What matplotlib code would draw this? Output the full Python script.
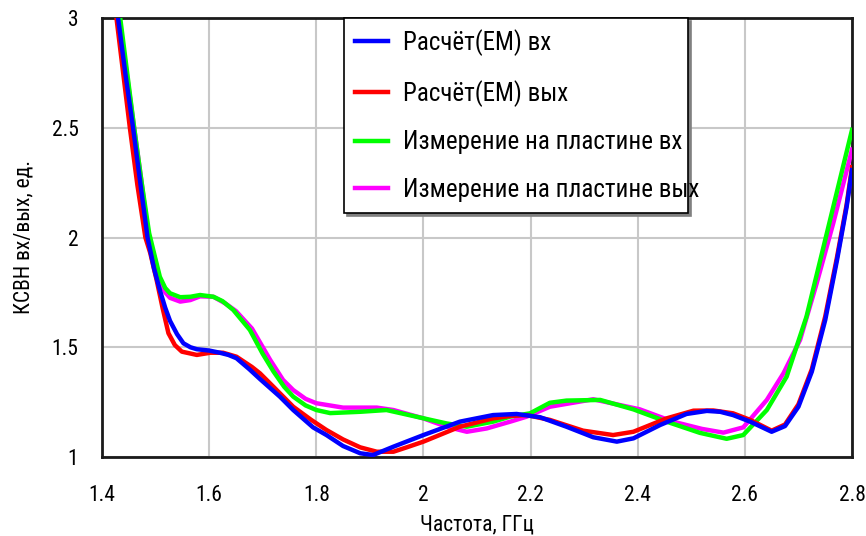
import matplotlib
matplotlib.use("Agg")
import matplotlib.pyplot as plt
from matplotlib import font_manager

names = sorted({f.name for f in font_manager.fontManager.ttflist})
narrow = None
for pref in ["Liberation Sans Narrow", "Arial Narrow", "Roboto Condensed", "Open Sans Condensed",
             "Noto Sans Condensed", "DejaVu Sans Condensed"]:
    if pref in names:
        narrow = pref
        break
if narrow is None:
    cands = [n for n in names if ("Narrow" in n or "Condensed" in n) and "Mono" not in n]
    narrow = cands[0] if cands else None
fam = ([narrow] if narrow else []) + ["Liberation Sans", "DejaVu Sans"]
plt.rcParams['font.family'] = fam
scale = 1.0 if narrow else 0.9

# ---- data ----
f_blue = [1.430, 1.444, 1.458, 1.472, 1.485, 1.497, 1.508, 1.518, 1.527, 1.540, 1.552, 1.565, 1.577,
          1.600, 1.620, 1.636, 1.651, 1.675, 1.695, 1.732, 1.757, 1.794, 1.819, 1.850, 1.882, 1.906,
          1.944, 2.000, 2.068, 2.130, 2.174, 2.218, 2.267, 2.317, 2.361, 2.392, 2.442, 2.491, 2.529,
          2.554, 2.578, 2.610, 2.650, 2.675, 2.700, 2.725, 2.750, 2.772, 2.790, 2.800]
s_blue = [3.00, 2.74, 2.50, 2.24, 2.00, 1.86, 1.76, 1.68, 1.62, 1.56, 1.518, 1.50, 1.491,
          1.485, 1.475, 1.465, 1.450, 1.400, 1.355, 1.275, 1.214, 1.135, 1.100, 1.050, 1.017, 1.009,
          1.047, 1.100, 1.161, 1.191, 1.196, 1.181, 1.138, 1.090, 1.070, 1.085, 1.146, 1.196, 1.210,
          1.206, 1.191, 1.161, 1.115, 1.141, 1.229, 1.389, 1.624, 1.897, 2.140, 2.307]

f_red = [1.427, 1.440, 1.452, 1.466, 1.481, 1.490, 1.502, 1.513, 1.524, 1.536, 1.549, 1.577, 1.602,
         1.626, 1.651, 1.680, 1.695, 1.720, 1.757, 1.790, 1.819, 1.850, 1.882, 1.913, 1.944, 1.970,
         2.000, 2.068, 2.130, 2.162, 2.193, 2.236, 2.298, 2.354, 2.392, 2.454, 2.504, 2.541, 2.578,
         2.610, 2.650, 2.675, 2.700, 2.725, 2.750, 2.772, 2.790, 2.800]
s_red = [3.00, 2.74, 2.50, 2.24, 2.00, 1.93, 1.806, 1.68, 1.564, 1.51, 1.480, 1.465, 1.475,
         1.475, 1.457, 1.410, 1.381, 1.320, 1.229, 1.170, 1.123, 1.080, 1.044, 1.024, 1.024, 1.045,
         1.070, 1.138, 1.176, 1.187, 1.191, 1.169, 1.120, 1.100, 1.115, 1.176, 1.211, 1.212, 1.199,
         1.169, 1.120, 1.148, 1.240, 1.400, 1.640, 1.910, 2.150, 2.320]

f_green = [1.434, 1.447, 1.460, 1.474, 1.488, 1.499, 1.508, 1.518, 1.527, 1.546, 1.565, 1.583, 1.608,
           1.625, 1.645, 1.676, 1.700, 1.720, 1.740, 1.757, 1.780, 1.800, 1.826, 1.882, 1.931, 1.975,
           2.043, 2.081, 2.130, 2.162, 2.199, 2.236, 2.267, 2.330, 2.392, 2.454, 2.516, 2.566, 2.597,
           2.641, 2.678, 2.715, 2.753, 2.800]
s_green = [3.00, 2.75, 2.50, 2.25, 2.02, 1.91, 1.821, 1.77, 1.746, 1.728, 1.730, 1.738, 1.730,
           1.710, 1.670, 1.579, 1.470, 1.390, 1.320, 1.275, 1.235, 1.214, 1.200, 1.206, 1.214, 1.190,
           1.153, 1.138, 1.161, 1.184, 1.199, 1.247, 1.257, 1.260, 1.217, 1.161, 1.110, 1.083, 1.100,
           1.214, 1.366, 1.639, 2.019, 2.490]

f_mag = [1.432, 1.446, 1.460, 1.474, 1.487, 1.499, 1.508, 1.518, 1.527, 1.546, 1.565, 1.583, 1.608,
         1.630, 1.650, 1.680, 1.714, 1.738, 1.757, 1.780, 1.800, 1.850, 1.913, 1.944, 2.000, 2.043,
         2.081, 2.118, 2.162, 2.193, 2.236, 2.317, 2.404, 2.466, 2.520, 2.560, 2.597, 2.641, 2.672,
         2.703, 2.734, 2.765, 2.800]
s_mag = [3.00, 2.75, 2.50, 2.25, 2.00, 1.90, 1.800, 1.75, 1.725, 1.708, 1.715, 1.732, 1.730,
         1.700, 1.665, 1.585, 1.442, 1.351, 1.305, 1.265, 1.245, 1.225, 1.225, 1.214, 1.176, 1.138,
         1.115, 1.130, 1.161, 1.184, 1.229, 1.263, 1.217, 1.161, 1.128, 1.111, 1.135, 1.260, 1.381,
         1.533, 1.791, 2.065, 2.400]

labels = ["Расчёт(EM) вх", "Расчёт(EM) вых", "Измерение на пластине вх", "Измерение на пластине вых"]
xticks = [1.4, 1.6, 1.8, 2.0, 2.2, 2.4, 2.6, 2.8]
xticklabels = ["1.4", "1.6", "1.8", "2", "2.2", "2.4", "2.6", "2.8"]
yticks = [1.0, 1.5, 2.0, 2.5, 3.0]
yticklabels = ["1", "1.5", "2", "2.5", "3"]
xlabel = "Частота, ГГц"
ylabel = "КСВН вх/вых, ед."

fig = plt.figure(figsize=(8.66, 5.36), dpi=100)
ax = fig.add_axes([102 / 866, 79 / 536, 750 / 866, 439 / 536])

lw = 3.2
hm, = ax.plot(f_mag, s_mag, color="#ff00ff", lw=lw, zorder=3)
hg, = ax.plot(f_green, s_green, color="#00ff00", lw=lw, zorder=4)
hr, = ax.plot(f_red, s_red, color="#ff0000", lw=lw, zorder=5)
hb, = ax.plot(f_blue, s_blue, color="#0000ff", lw=lw, zorder=6)

ax.set_xlim(1.4, 2.8)
ax.set_ylim(1.0, 3.0)
ax.set_xticks(xticks)
ax.set_xticklabels(xticklabels)
ax.set_yticks(yticks)
ax.set_yticklabels(yticklabels)
ax.grid(True, color="#c8c8c8", lw=1.5, zorder=0)
ax.set_axisbelow(True)
for s in ax.spines.values():
    s.set_color("#1a1a1a")
    s.set_linewidth(2)
ax.tick_params(axis="both", length=0, labelsize=15.5 * scale)
ax.tick_params(axis="x", pad=20)
ax.tick_params(axis="y", pad=17)
ax.set_xlabel(xlabel, fontsize=15.5 * scale, labelpad=6)
ax.set_ylabel(ylabel, fontsize=15.5 * scale, labelpad=12)

x0 = (344 - 102) / 750
w = (688 - 344) / 750
leg = ax.legend([hb, hr, hg, hm], labels, loc="upper left",
                bbox_to_anchor=(x0, 0.0, w, 1.0), mode="expand", borderaxespad=0,
                fontsize=18 * scale, frameon=True, fancybox=False, framealpha=1,
                edgecolor="black", shadow={"color": "#808080", "alpha": 1},
                handlelength=1.3, handletextpad=0.6, labelspacing=0.95,
                borderpad=0.45)
leg.get_frame().set_linewidth(1.2)
leg.set_zorder(10)

fig.savefig("out.png", dpi=100)
